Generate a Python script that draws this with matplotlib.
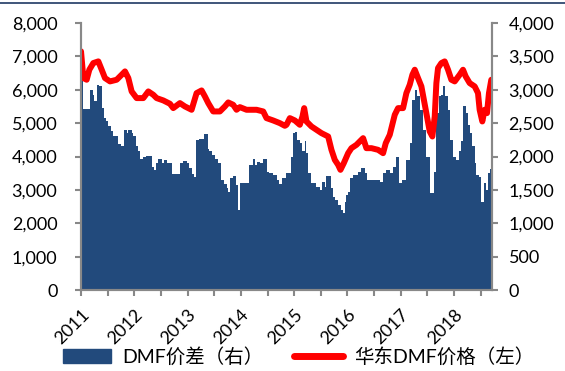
import matplotlib
matplotlib.use('Agg')
import matplotlib.pyplot as plt
from matplotlib.lines import Line2D

plt.rcParams['font.family'] = ['Lato', 'Noto Sans CJK SC', 'DejaVu Sans']

# DMF spread (right axis), step data: start of each period (decimal year) and value
spread_years = [2011.000, 2011.044, 2011.169, 2011.219, 2011.250, 2011.294, 2011.344, 2011.388,
                2011.431, 2011.469, 2011.513, 2011.563, 2011.606, 2011.700, 2011.744, 2011.806,
                2011.856, 2011.888, 2011.950, 2011.981, 2012.025, 2012.063, 2012.106, 2012.156,
                2012.219, 2012.325, 2012.369, 2012.406, 2012.450, 2012.513, 2012.556, 2012.619,
                2012.669, 2012.700, 2012.856, 2012.906, 2012.981, 2013.031, 2013.075, 2013.119,
                2013.156, 2013.219, 2013.306, 2013.381, 2013.406, 2013.456, 2013.513, 2013.575,
                2013.619, 2013.681, 2013.731, 2013.763, 2013.794, 2013.856, 2013.900, 2013.944,
                2013.988, 2014.156, 2014.219, 2014.263, 2014.306, 2014.356, 2014.419, 2014.481,
                2014.531, 2014.606, 2014.669, 2014.719, 2014.763, 2014.844, 2014.950, 2014.981,
                2015.013, 2015.056, 2015.106, 2015.156, 2015.200, 2015.231, 2015.263, 2015.325,
                2015.419, 2015.481, 2015.531, 2015.575, 2015.606, 2015.700, 2015.731, 2015.763,
                2015.825, 2015.888, 2015.919, 2015.950, 2015.981, 2016.013, 2016.044, 2016.106,
                2016.200, 2016.263, 2016.325, 2016.369, 2016.606, 2016.669, 2016.719, 2016.794,
                2016.856, 2016.906, 2016.969, 2017.031, 2017.106, 2017.169, 2017.219, 2017.263,
                2017.306, 2017.356, 2017.419, 2017.481, 2017.544, 2017.619, 2017.669, 2017.719,
                2017.763, 2017.794, 2017.838, 2017.888, 2017.931, 2017.981, 2018.044, 2018.094,
                2018.138, 2018.169, 2018.219, 2018.263, 2018.306, 2018.344, 2018.388, 2018.419,
                2018.469, 2018.513, 2018.556, 2018.594, 2018.638, 2018.681]
spread = [3125, 2710, 3000, 2925, 2825, 3075, 3050, 2725, 2575, 2525, 2450, 2375, 2310, 2190,
          2150, 2400, 2350, 2400, 2350, 2300, 2150, 2075, 1960, 2000, 2010, 1850, 1800, 1900,
          1960, 1910, 1950, 1910, 1900, 1740, 1900, 1940, 1900, 1825, 1740, 1700, 2250, 2260,
          2340, 2110, 2075, 2025, 1960, 1910, 1650, 1590, 1525, 1475, 1675, 1710, 1575, 1200,
          1600, 1875, 1960, 1875, 1925, 1900, 1960, 1775, 1760, 1725, 1650, 1590, 1675, 1760,
          2000, 2350, 2360, 2250, 2200, 2075, 2225, 2050, 1750, 1600, 1550, 1500, 1625, 1550,
          1710, 1525, 1400, 1350, 1275, 1200, 1150, 1325, 1425, 1475, 1675, 1725, 1775, 1825,
          1750, 1650, 1625, 1760, 1800, 1750, 1850, 2000, 1600, 1650, 1950, 2200, 2850, 3000,
          2900, 2700, 2400, 2000, 1450, 1775, 2650, 2900, 2925, 3050, 2900, 2700, 2250, 2000,
          1950, 2075, 2225, 2750, 2650, 2475, 2350, 2150, 1900, 1725, 1700, 1325, 1600, 1500,
          1750, 1810]
spread_end = 2018.713

# East China DMF price (left axis)
price_years = [2011.000, 2011.044, 2011.106, 2011.156, 2011.231, 2011.325, 2011.388, 2011.450,
               2011.544, 2011.669, 2011.763, 2011.825, 2011.888, 2011.950, 2012.044, 2012.169,
               2012.263, 2012.356, 2012.419, 2012.544, 2012.669, 2012.731, 2012.856, 2012.950,
               2013.075, 2013.169, 2013.263, 2013.325, 2013.388, 2013.481, 2013.606, 2013.700,
               2013.763, 2013.856, 2013.919, 2013.981, 2014.106, 2014.294, 2014.419, 2014.481,
               2014.606, 2014.731, 2014.825, 2014.856, 2014.919, 2015.013, 2015.106, 2015.156,
               2015.188, 2015.231, 2015.325, 2015.419, 2015.513, 2015.638, 2015.700, 2015.763,
               2015.825, 2015.869, 2015.931, 2016.013, 2016.075, 2016.169, 2016.231, 2016.294,
               2016.356, 2016.450, 2016.575, 2016.669, 2016.719, 2016.794, 2016.888, 2016.950,
               2017.044, 2017.106, 2017.169, 2017.219, 2017.263, 2017.325, 2017.388, 2017.481,
               2017.544, 2017.594, 2017.638, 2017.669, 2017.700, 2017.763, 2017.825, 2017.888,
               2017.950, 2018.013, 2018.106, 2018.169, 2018.219, 2018.294, 2018.388, 2018.450,
               2018.481, 2018.531, 2018.575, 2018.619, 2018.656, 2018.700]
price = [7150, 6350, 6300, 6600, 6800, 6850, 6600, 6350, 6250, 6300, 6450, 6550, 6350, 5950,
         5750, 5750, 5950, 5850, 5750, 5680, 5580, 5450, 5600, 5500, 5400, 5900, 5980, 5800,
         5600, 5350, 5350, 5500, 5620, 5550, 5400, 5480, 5400, 5400, 5350, 5150, 5080, 5000,
         4920, 4950, 5150, 5080, 4950, 5200, 5450, 5050, 4900, 4800, 4700, 4600, 4200, 3900,
         3750, 3600, 3800, 4100, 4250, 4350, 4450, 4550, 4250, 4250, 4200, 4100, 4400, 4650,
         5250, 5450, 5450, 5900, 6150, 6450, 6600, 6350, 6100, 5300, 4750, 4600, 5200, 6200,
         6650, 6800, 6850, 6600, 6300, 6250, 6450, 6600, 6400, 6200, 6100, 5900, 5400, 5050,
         5400, 5300, 5900, 6300]

year_ticks = [2011 + 0.5 * i for i in range(16)]
year_labels = ['2011', '', '2012', '', '2013', '', '2014', '', '2015', '', '2016', '', '2017', '',
               '2018', '']

blue = '#224A7C'
red = '#FF0000'
grey = '#888888'

fig = plt.figure(figsize=(5.65, 3.71), dpi=100)
ax1 = fig.add_axes([0.1434, 0.2183, 0.7274, 0.7197])
ax2 = ax1.twinx()

ax2.fill_between(spread_years + [spread_end], spread + [spread[-1]], 0, step='post',
                 color=blue, linewidth=0)
ax1.plot(price_years, price, color=red, linewidth=4.3, solid_capstyle='round',
         solid_joinstyle='round')

ax1.set_zorder(ax2.get_zorder() + 1)
ax1.patch.set_visible(False)

ax1.set_xlim(2011, spread_end)
ax1.set_ylim(0, 8000)
ax2.set_ylim(0, 4000)
ax1.set_yticks(range(0, 8001, 1000))
ax2.set_yticks(range(0, 4001, 500))
ax1.set_yticklabels(['{:,}'.format(v) for v in range(0, 8001, 1000)])
ax2.set_yticklabels(['{:,}'.format(v) for v in range(0, 4001, 500)])
ax1.set_xticks(year_ticks)
ax1.set_xticklabels(year_labels, rotation=45, ha='right', rotation_mode='anchor')

for ax in (ax1, ax2):
    ax.spines['top'].set_visible(False)
    for s in ('left', 'right', 'bottom'):
        ax.spines[s].set_color(grey)
        ax.spines[s].set_linewidth(1.5)
ax1.tick_params(axis='y', direction='out', length=4, width=1.5, color=grey, labelsize=13, pad=13)
ax2.tick_params(axis='y', direction='out', length=4, width=1.5, color=grey, labelsize=13, pad=8)
ax1.tick_params(axis='x', direction='out', length=4, width=1.5, color=grey, labelsize=13, pad=8)

handles = [plt.Rectangle((0, 0), 1, 1, color=blue),
           Line2D([0], [0], color=red, linewidth=5, solid_capstyle='round')]
fig.legend(handles, ['DMF价差（右）', '华东DMF价格（左）'], loc='center', ncol=2,
           bbox_to_anchor=(0.528, 0.04), frameon=False, fontsize=14, handlelength=2.5,
           columnspacing=1.6, handletextpad=0.55)

fig.add_artist(Line2D([0, 1], [0.992, 0.992], transform=fig.transFigure, color='#1F3864',
                      linewidth=1.2))

fig.savefig('out.png', dpi=100)
